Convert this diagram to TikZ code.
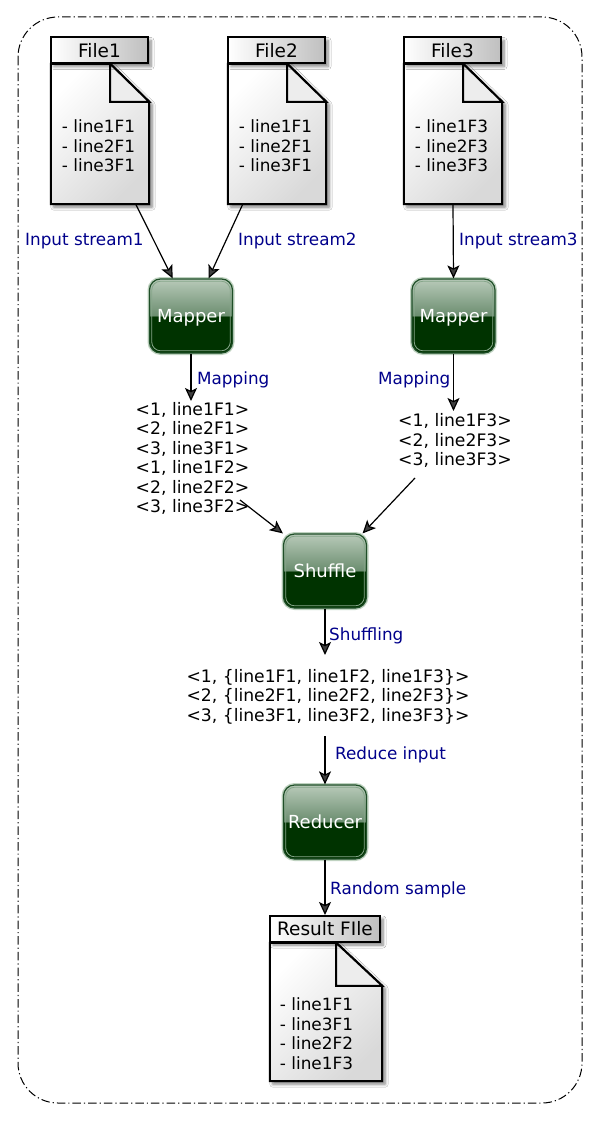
\documentclass[tikz,border=0pt]{standalone}
\usepackage{fontspec}
\setmainfont{DejaVu Sans}
\usetikzlibrary{arrows.meta,calc,shadows,shadows.blur}
\definecolor{glossdark}{HTML}{003300}
\definecolor{glossmid}{HTML}{6B8D6F}
\definecolor{glosstop}{HTML}{B8CAB9}
\definecolor{glossrim}{HTML}{1F4F28}
\definecolor{glossglow}{HTML}{BFD2C0}
\definecolor{glossinner}{HTML}{86A68A}
\definecolor{labelblue}{HTML}{00008B}
\pgfdeclareverticalshading{glossy}{100bp}{color(0bp)=(glossdark); color(50bp)=(glossdark); color(50.01bp)=(glossmid); color(75bp)=(glosstop); color(100bp)=(glosstop)}
\tikzset{
	flow/.style={line width=1.2pt, -{Stealth[length=13pt,width=12pt,inset=3pt]}},
	stepbox/.style={rounded corners=11pt, minimum width=83pt, minimum height=74pt, inner sep=0pt, shading=glossy, draw=glossrim, line width=1.2pt,
		preaction={draw=glossglow, line width=4pt},
		path picture={\draw[draw=glossinner, line width=0.8pt, rounded corners=9pt] ($(path picture bounding box.south west)+(2.2,-2.2)$) rectangle ($(path picture bounding box.north east)+(-2.2,2.2)$);},
		text=white, text height=14pt, text depth=2pt, font=\fontsize{18}{20}\selectfont},
	listtext/.style={align=left, inner sep=0pt, font=\fontsize{16.9}{19.5}\selectfont},
	keytext/.style={align=left, inner sep=0pt, font=\fontsize{17.2}{19.5}\selectfont},
	flowlabel/.style={text=labelblue, inner sep=0pt, yshift=-1.5pt, font=\fontsize{16.8}{19}\selectfont},
	filetitle/.style={draw=black, line width=2pt, inner sep=0pt, minimum height=26pt, shading=axis, left color=white, right color=black!25, font=\fontsize{18.5}{20}\selectfont, blur shadow={shadow xshift=3pt, shadow yshift=-3pt, shadow blur radius=3pt, shadow blur steps=6, shadow opacity=50}},
	filepage/.style={draw=black, line width=2pt, shading=axis, top color=white, bottom color=black!15, shading angle=45, blur shadow={shadow xshift=3pt, shadow yshift=-3pt, shadow blur radius=3pt, shadow blur steps=6, shadow opacity=50}},
	filefold/.style={draw=black, line width=2pt, fill=black!7},
	filearea/.style={inner sep=0pt},
}
% page with its corner folded: node name, fold width, fold height
\newcommand\filedoc[3]{
	\draw[filepage] (#1.north west) -- ($(#1.north east)+(-#2,0)$) -- ($(#1.north east)+(0,#3)$) -- (#1.south east) -- (#1.south west) -- cycle;
	\draw[filefold] ($(#1.north east)+(-#2,0)$) -- ($(#1.north east)+(0,#3)$) -- ($(#1.north east)+(-#2,#3)$) -- cycle;
}
\begin{document}
\begin{tikzpicture}[x=1pt, y=-1pt]
	\useasboundingbox (0,0) rectangle (600,1121);
	\fill[white] (0,0) rectangle (600,1121);

	\draw[line width=1pt, dash pattern=on 8.5pt off 3pt on 1.2pt off 3pt, rounded corners=40pt] (18,17) rectangle (582,1103);

	%%%%% files %%%%%
	\node[filearea, minimum width=98pt, minimum height=140pt] (file1) at (100,134) {};
	\filedoc{file1}{39}{38}
	\node[filetitle, minimum width=97pt] (title1) at (99.5,50.5) {File1};
	\node[listtext] (text1) at (98.5,146) {- line1F1\\- line2F1\\- line3F1};

	\node[filearea, minimum width=98pt, minimum height=140pt] (file2) at (277,134) {};
	\filedoc{file2}{39}{38}
	\node[filetitle, minimum width=97pt] (title2) at (276.5,50.5) {File2};
	\node[listtext] (text2) at (275.5,146) {- line1F1\\- line2F1\\- line3F1};

	\node[filearea, minimum width=98pt, minimum height=140pt] (file3) at (453,134) {};
	\filedoc{file3}{39}{38}
	\node[filetitle, minimum width=97pt] (title3) at (452.5,50.5) {File3};
	\node[listtext] (text3) at (451.5,146) {- line1F3\\- line2F3\\- line3F3};

	%%%%% steps %%%%%
	\node[stepbox] (mapper1) at (191,316) {Mapper};
	\node[stepbox] (mapper2) at (453.5,316) {Mapper};
	\node[stepbox] (shuffle) at (325,571) {Shuffle};
	\node[stepbox] (reducer) at (325,822) {Reducer};

	%%%%% key lists %%%%%
	\node[keytext] (mapped1) at (192.5,458.5) {<1, line1F1>\\<2, line2F1>\\<3, line3F1>\\<1, line1F2>\\<2, line2F2>\\<3, line3F2>};
	\node[keytext] (mapped2) at (455,440.5) {<1, line1F3>\\<2, line2F3>\\<3, line3F3>};
	\node[keytext] (grouped) at (328,696.5) {<1, \{line1F1, line1F2, line1F3\}>\\<2, \{line2F1, line2F2, line2F3\}>\\<3, \{line3F1, line3F2, line3F3\}>};
	\coordinate (mapped1out) at (240,500);
	\coordinate (mapped2out) at (415,478);
	\coordinate (mapped1in) at (191,401);
	\coordinate (mapped2in) at (453.5,411);
	\coordinate (groupedin) at (325,655);
	\coordinate (groupedout) at (325,736);

	%%%%% result %%%%%
	\node[filearea, minimum width=112pt, minimum height=138pt] (result) at (326,1012) {};
	\filedoc{result}{46}{43}
	\node[filetitle, minimum width=110pt] (resulttitle) at (325,929) {Result FIle};
	\node[listtext] (resulttext) at (316.5,1033.5) {- line1F1\\- line3F1\\- line2F2\\- line1F3};

	%%%%% connectors %%%%%
	\draw[flow] (file1.-63.4) -- (mapper1.116);
	\draw[flow] (file2.-116) -- (mapper1.65);
	\draw[flow] (file3.south) -- (mapper2.north);
	\draw[flow] (mapper1.south) -- (mapped1in);
	\draw[flow] (mapper2.south) -- (mapped2in);
	\draw[flow] (mapped1out) -- (shuffle.north west);
	\draw[flow] (mapped2out) -- (shuffle.45);
	\draw[flow] (shuffle.south) -- (groupedin);
	\draw[flow] (groupedout) -- (reducer.north);
	\draw[flow] (reducer.south) -- (resulttitle.north);

	%%%%% labels %%%%%
	\node[flowlabel, anchor=west] (instream1) at (25,240) {Input stream1};
	\node[flowlabel, anchor=west] (instream2) at (238,240) {Input stream2};
	\node[flowlabel, anchor=west] (instream3) at (459,240) {Input stream3};
	\node[flowlabel, anchor=west] (mapping1) at (197,378) {Mapping};
	\node[flowlabel, anchor=west] (mapping2) at (378,378) {Mapping};
	\node[flowlabel, anchor=west] (shuffling) at (329,634) {Shuffling};
	\node[flowlabel, anchor=west] (reduceinput) at (335,753) {Reduce input};
	\node[flowlabel, anchor=west] (randomsample) at (330,888) {Random sample};
\end{tikzpicture}
\end{document}
